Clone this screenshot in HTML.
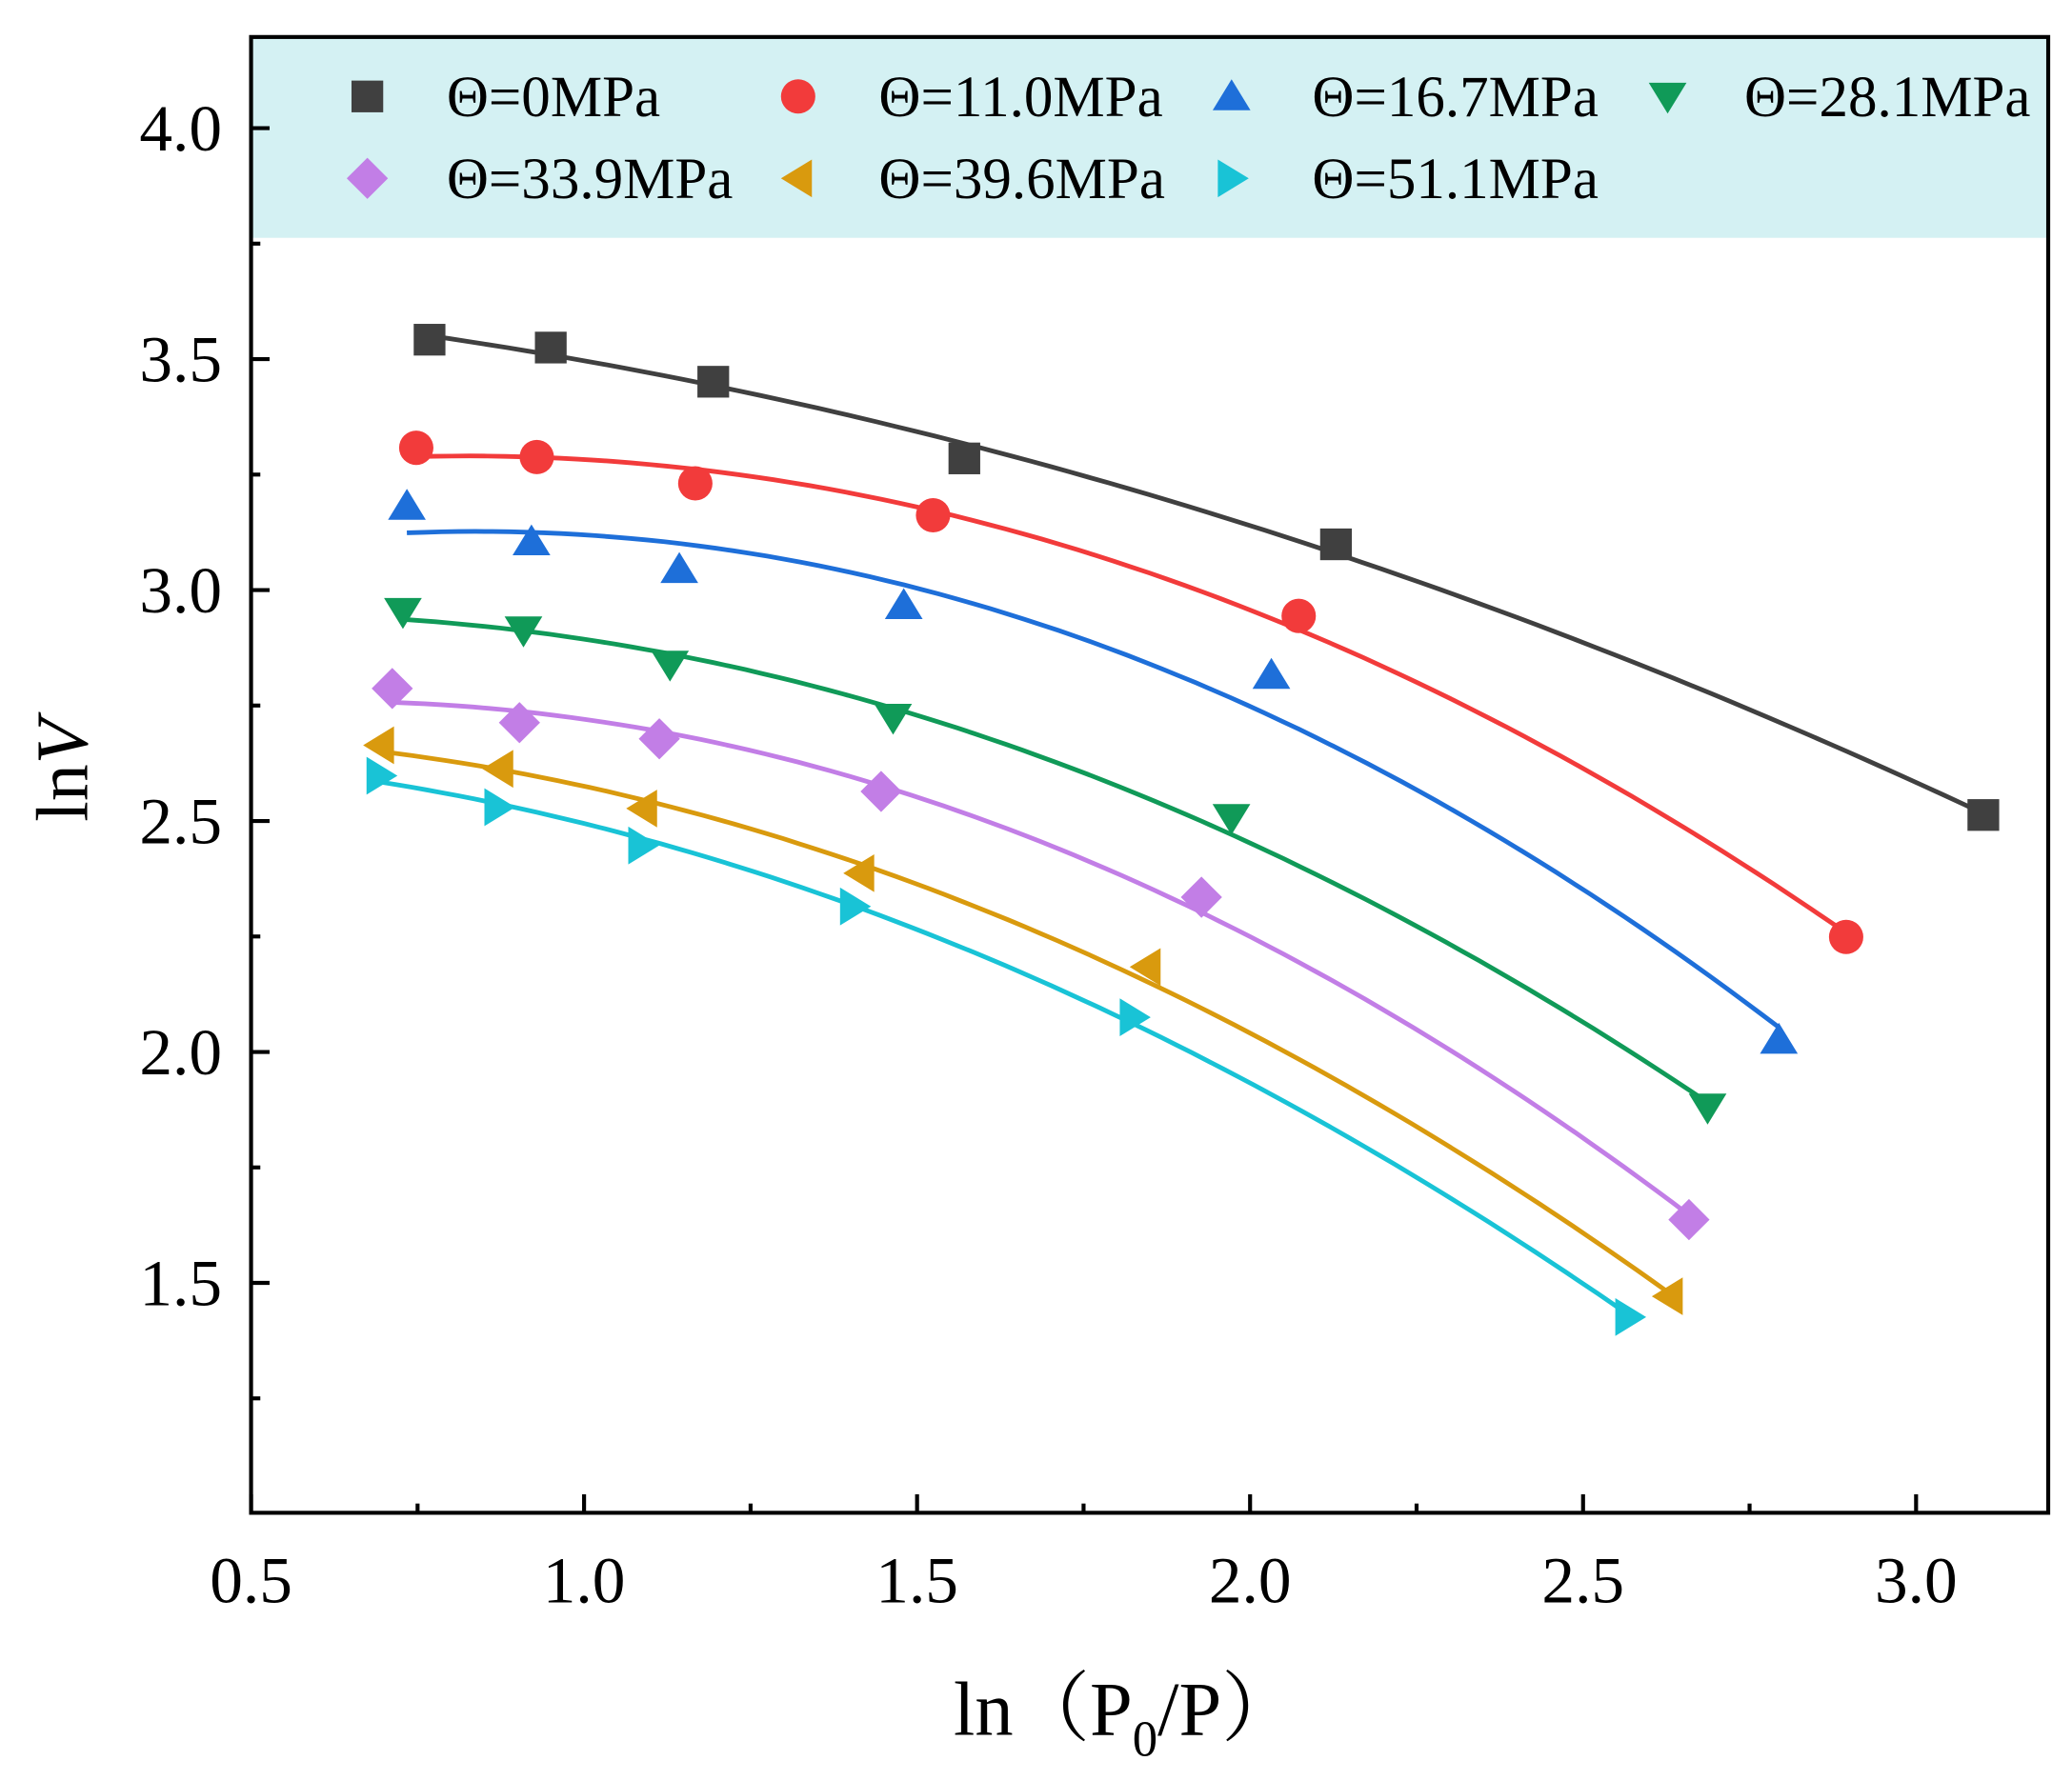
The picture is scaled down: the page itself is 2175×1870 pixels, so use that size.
<!DOCTYPE html>
<html><head><meta charset="utf-8"><style>
html,body{margin:0;padding:0;background:#fff}
svg{display:block}
text{font-family:"Liberation Serif","Noto Serif CJK SC",serif;fill:#000}
</style></head><body>
<svg id="chart" width="2175" height="1870" viewBox="0 0 1568 1348" preserveAspectRatio="none" xmlns="http://www.w3.org/2000/svg">
<rect x="190" y="28" width="1360" height="152" fill="#d4f1f3"/>
<g id="ticks"></g>
<g id="curves"></g>
<g id="marks"></g>
<rect x="190" y="28" width="1360" height="1117" fill="none" stroke="#000" stroke-width="3"/>
<g id="legend"></g>
<text transform="translate(66,583) rotate(-90)" text-anchor="middle" font-size="56">ln<tspan font-style="italic">V</tspan></text>
<text x="852" y="1313" text-anchor="middle" font-size="58">ln（P<tspan font-size="38" dy="16">0</tspan><tspan dy="-16">/P）</tspan></text>
</svg>
<script>
const names=["Θ=0MPa","Θ=11.0MPa","Θ=16.7MPa","Θ=28.1MPa","Θ=33.9MPa","Θ=39.6MPa","Θ=51.1MPa"];
const colors=["#404040","#f23b3b","#1e6fd9","#109a58","#c27ee6","#d99a0e","#19c3d6"];
const shapes=["square","circle","up","down","diamond","left","right"];
const xs0=[0.768,0.950,1.194,1.571,2.129,3.101];
const ys0=[3.542,3.525,3.451,3.285,3.099,2.513];
const xs1=[0.748,0.929,1.167,1.524,2.073,2.895];
const ys1=[3.308,3.288,3.231,3.162,2.944,2.249];
const xs2=[0.734,0.921,1.143,1.480,2.032,2.794];
const ys2=[3.182,3.105,3.045,2.967,2.816,2.026];
const xs3=[0.728,0.909,1.129,1.464,1.972,2.687];
const ys3=[2.953,2.913,2.839,2.724,2.507,1.880];
const xs4=[0.712,0.903,1.113,1.446,1.927,2.659];
const ys4=[2.787,2.713,2.678,2.564,2.335,1.637];
const xs5=[0.694,0.873,1.089,1.415,1.845,2.629];
const ys5=[2.664,2.613,2.527,2.387,2.184,1.471];
const xs6=[0.694,0.871,1.087,1.405,1.825,2.569];
const ys6=[2.598,2.530,2.447,2.315,2.075,1.426];
const xTicks=["0.5","1.0","1.5","2.0","2.5","3.0"];
const yTicks=["1.5","2.0","2.5","3.0","3.5","4.0"];
const XS=[xs0,xs1,xs2,xs3,xs4,xs5,xs6], YS=[ys0,ys1,ys2,ys3,ys4,ys5,ys6];
const NS="http://www.w3.org/2000/svg";
const sx=v=>190+(v-0.5)*504, sy=v=>97+(4.0-v)*349.6;
function mk(tag,attrs,parent){const e=document.createElementNS(NS,tag);for(const k in attrs)e.setAttribute(k,attrs[k]);parent.appendChild(e);return e;}
const tg=document.getElementById('ticks');
xTicks.forEach(t=>{const v=parseFloat(t);
 const l=mk('line',{x1:sx(v),x2:sx(v),y1:1145,y2:1131,stroke:'#000','stroke-width':3},tg);
 
 const m=mk('line',{x1:sx(v+0.25),x2:sx(v+0.25),y1:1145,y2:1138,stroke:'#000','stroke-width':3},tg);
 
 const tx=mk('text',{x:sx(v),y:1213,'text-anchor':'middle','font-size':50},tg);tx.textContent=t;
 });
yTicks.forEach(t=>{const v=parseFloat(t);
 const l=mk('line',{x1:190,x2:204,y1:sy(v),y2:sy(v),stroke:'#000','stroke-width':3},tg);
 
 const m=mk('line',{x1:190,x2:197,y1:sy(v-0.25),y2:sy(v-0.25),stroke:'#000','stroke-width':3},tg);
 
 const tx=mk('text',{x:168,y:sy(v)+17,'text-anchor':'end','font-size':50},tg);tx.textContent=t;
 });
function marker(shape,cx,cy,col,parent){const r=13;let e;
 if(shape==='square')e=mk('rect',{x:cx-12,y:cy-12,width:24,height:24,fill:col},parent);
 else if(shape==='circle')e=mk('circle',{cx:cx,cy:cy,r:13,fill:col},parent);
 else{let p;
  if(shape==='up')p=[[0,-r],[r*1.1,r*0.8],[-r*1.1,r*0.8]];
  if(shape==='down')p=[[0,r],[r*1.1,-r*0.8],[-r*1.1,-r*0.8]];
  if(shape==='left')p=[[-r,0],[r*0.8,-r*1.1],[r*0.8,r*1.1]];
  if(shape==='right')p=[[r,0],[-r*0.8,-r*1.1],[-r*0.8,r*1.1]];
  if(shape==='diamond')p=[[0,-r*1.2],[r*1.2,0],[0,r*1.2],[-r*1.2,0]];
  e=mk('polygon',{points:p.map(q=>(cx+q[0])+','+(cy+q[1])).join(' '),fill:col},parent);}
 return e;}
function quadFit(x,y){let S=[0,0,0,0,0],T=[0,0,0];
 for(let i=0;i<x.length;i++){let p=1;for(let k=0;k<5;k++){S[k]+=p;if(k<3)T[k]+=p*y[i];p*=x[i];}}
 const A=[[S[0],S[1],S[2],T[0]],[S[1],S[2],S[3],T[1]],[S[2],S[3],S[4],T[2]]];
 for(let i=0;i<3;i++){for(let j=i+1;j<3;j++){const f=A[j][i]/A[i][i];for(let k=i;k<4;k++)A[j][k]-=f*A[i][k];}}
 const c=[0,0,0];for(let i=2;i>=0;i--){let s=A[i][3];for(let k=i+1;k<3;k++)s-=A[i][k]*c[k];c[i]=s/A[i][i];}
 return c;}
const cg=document.getElementById('curves'),mg=document.getElementById('marks');
XS.forEach((x,s)=>{const y=YS[s];const c=quadFit(x,y);let d='';
 const x0=x[0],x1=x[x.length-1];
 for(let i=0;i<=80;i++){const v=x0+(x1-x0)*i/80;const w=c[0]+c[1]*v+c[2]*v*v;d+=(i?'L':'M')+sx(v).toFixed(1)+','+sy(w).toFixed(1);}
 const p=mk('path',{d:d,fill:'none',stroke:colors[s],'stroke-width':3.5},cg);
 
 x.forEach((v,i)=>{const m=marker(shapes[s],sx(v),sy(y[i]),colors[s],mg);
  });});
const lg=document.getElementById('legend');
const lx=[278,604,932,1262],ltx=[338,665,993,1320];
names.forEach((n,i)=>{const col=i%4,row=Math.floor(i/4);const cy=row?135:73;
 const m=marker(shapes[i],lx[col],cy,colors[i],lg);
 
 const t=mk('text',{x:ltx[col],y:cy+15,'font-size':44},lg);t.textContent=n;
 });
</script>
</body></html>
